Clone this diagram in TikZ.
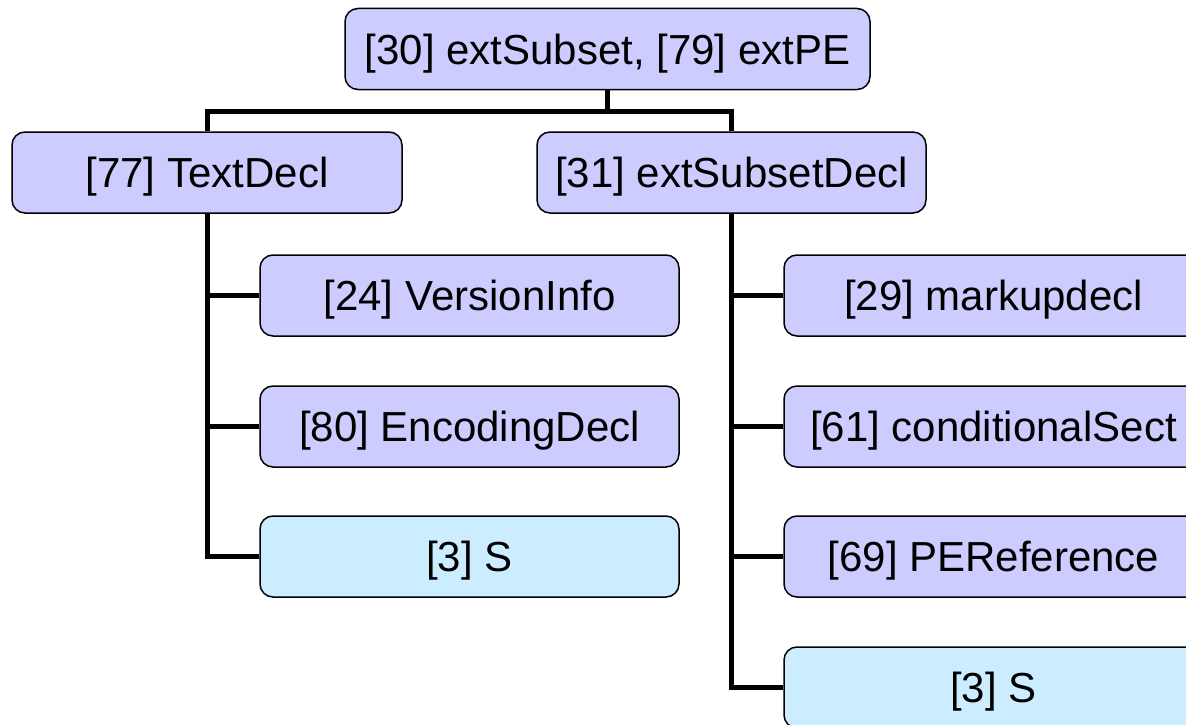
\documentclass[tikz,border=0pt]{standalone}
\usepackage{fontspec}
\setmainfont{Liberation Sans}
\definecolor{boxblue}{HTML}{CCCCFF}
\definecolor{boxcyan}{HTML}{CCECFF}
\begin{document}
\begin{tikzpicture}[x=1pt,y=-1pt,
  box/.style={draw=black, line width=1.5pt, rounded corners=13pt, fill=boxblue,
    inner sep=0pt, minimum height=81pt, text height=30pt, text depth=0pt,
    font=\fontsize{42}{50}\selectfont},
  sbox/.style={box, fill=boxcyan},
  conn/.style={draw=black, line width=5pt}]
\useasboundingbox (0,0) rectangle (1186,725);
\clip (0,0) rectangle (1186,725);
\node[box, minimum width=525pt] (top) at (607.5,49) {[30] extSubset, [79] extPE};
\node[box, minimum width=390pt] (td) at (207,172.5) {[77] TextDecl};
\node[box, minimum width=389pt] (esd) at (731.5,172.5) {[31] extSubsetDecl};
\node[box, minimum width=419pt] (vi) at (469.5,295.5) {[24] VersionInfo};
\node[box, minimum width=419pt] (ed) at (469.5,426.5) {[80] EncodingDecl};
\node[sbox, minimum width=419pt] (s1) at (469.5,556.5) {[3] S};
\node[box, minimum width=419pt] (md) at (993.5,295.5) {[29] markupdecl};
\node[box, minimum width=419pt] (cs) at (993.5,426.5) {[61] conditionalSect};
\node[box, minimum width=419pt] (per) at (993.5,556.5) {[69] PEReference};
\node[sbox, minimum width=419pt] (s2) at (993.5,687.5) {[3] S};
\path[conn] (top.south) -- (top.south |- 0,111) coordinate (j);
\path[conn] (td.north) |- (j) -| (esd.north);
\path[conn] (td.south) |- (s1.west);
\path[conn] (td.south |- vi.west) -- (vi.west);
\path[conn] (td.south |- ed.west) -- (ed.west);
\path[conn] (esd.south) |- (s2.west);
\path[conn] (esd.south |- md.west) -- (md.west);
\path[conn] (esd.south |- cs.west) -- (cs.west);
\path[conn] (esd.south |- per.west) -- (per.west);
\end{tikzpicture}
\end{document}
